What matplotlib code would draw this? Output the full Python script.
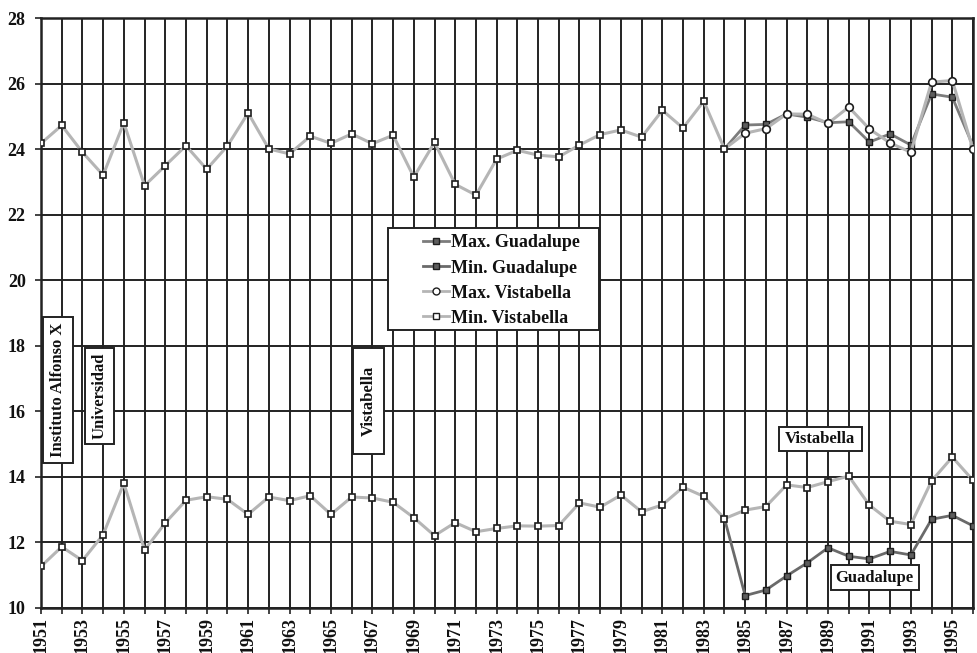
#!/usr/bin/env python3
# -*- coding: utf-8 -*-

"""
Max / min temperature series, Vistabella and Guadalupe, 1951-1996.
"""

import matplotlib
matplotlib.use("Agg")
from matplotlib import pyplot as plt
from matplotlib.lines import Line2D
from matplotlib.patches import Rectangle

# DATA ########################################################################

years = list(range(1951, 1997))

vist_max = [24.18, 24.73, 23.91, 23.21, 24.81, 22.89, 23.50, 24.11, 23.39, 24.10,
            25.11, 24.01, 23.86, 24.40, 24.18, 24.47, 24.17, 24.43, 23.15, 24.21,
            22.93, 22.60, 23.70, 23.97, 23.82, 23.77, 24.13, 24.45, 24.59, 24.37,
            25.19, 24.65, 25.47, 24.01, 24.49, 24.63, 25.08, 25.07, 24.79, 25.29,
            24.62, 24.19, 23.91, 26.05, 26.10, 24.00]

vist_min = [11.26, 11.86, 11.44, 12.23, 13.80, 11.76, 12.59, 13.28, 13.39, 13.31,
            12.85, 13.38, 13.27, 13.42, 12.85, 13.38, 13.35, 13.22, 12.75, 12.20,
            12.60, 12.32, 12.42, 12.50, 12.49, 12.51, 13.20, 13.07, 13.44, 12.93,
            13.14, 13.68, 13.40, 12.72, 12.98, 13.09, 13.75, 13.67, 13.85, 14.02,
            13.13, 12.64, 12.54, 13.87, 14.60, 13.89]

guad_years = list(range(1985, 1997))
guad_max = [24.74, 24.76, 25.08, 24.98, 24.81, 24.84, 24.22, 24.47, 24.13, 25.69,
            25.59, 24.10]
guad_min = [10.37, 10.54, 10.97, 11.37, 11.83, 11.57, 11.49, 11.72, 11.61, 12.70,
            12.82, 12.50]

station_start = 1984   # last year of the shared series

series_labels = ["Max. Guadalupe", "Min. Guadalupe", "Max. Vistabella", "Min. Vistabella"]
x_tick_labels = [str(y) if y % 2 else "" for y in years]
y_ticks = [10, 12, 14, 16, 18, 20, 22, 24, 26, 28]

# STYLE #######################################################################

plt.rcParams["font.family"] = ["Liberation Serif", "DejaVu Serif"]
plt.rcParams["font.weight"] = "bold"

LIGHT = "#b5b5b5"
DARK_MAX = "#7c7c7c"
DARK_MIN = "#6a6a6a"
FILL = "#5e5e5e"
EDGE = "#1e1e1e"
GRID = "#222222"

W, H = 977, 653

# PLOT ########################################################################

fig = plt.figure(figsize=(W / 100, H / 100), dpi=100)
ax = fig.add_axes([41 / W, 1 - 607.7 / H, 932 / W, 589.4 / H])


def px_box(x0, y0, x1, y1, text=None, rotation=0):
    """White framed box given in pixel coords (origin top-left)."""
    rect = Rectangle((x0 / W, 1 - y1 / H), (x1 - x0) / W, (y1 - y0) / H,
                     transform=fig.transFigure, fc="white", ec=GRID, lw=1.4,
                     zorder=9, clip_on=False)
    ax.add_patch(rect)
    if text:
        ax.text((x0 + x1) / 2 / W, 1 - (y0 + y1) / 2 / H, text, rotation=rotation,
                transform=fig.transFigure, ha="center", va="center",
                fontsize=12, fontweight="bold", color="#111111", zorder=10)


# Guadalupe lines start from the shared 1984 value
i0 = years.index(station_start)
gx = [station_start] + guad_years

ax.plot(gx, [vist_max[i0]] + guad_max, "-", color=DARK_MAX, lw=2.0, zorder=3)
ax.plot(guad_years, guad_max, "s", ms=5, mfc=FILL, mec=EDGE, mew=1.0, zorder=4)
ax.plot(gx, [vist_min[i0]] + guad_min, "-", color=DARK_MIN, lw=2.0, zorder=3)
ax.plot(guad_years, guad_min, "s", ms=5, mfc=FILL, mec=EDGE, mew=1.0, zorder=4)

# Vistabella lines
ax.plot(years, vist_max, "-", color=LIGHT, lw=2.2, zorder=5)
ax.plot(years[:i0 + 1], vist_max[:i0 + 1], "s", ms=5, mfc="white", mec=EDGE,
        mew=1.2, zorder=6)
ax.plot(years[i0 + 1:], vist_max[i0 + 1:], "o", ms=5.5, mfc="white", mec=EDGE,
        mew=1.2, zorder=6)
ax.plot(years, vist_min, "-", color=LIGHT, lw=2.2, zorder=5)
ax.plot(years, vist_min, "s", ms=5, mfc="white", mec=EDGE, mew=1.2, zorder=6)

# Axes ####################

ax.set_xlim(years[0], years[-1])
ax.set_ylim(10, 28)
ax.set_xticks(years)
ax.set_xticklabels(x_tick_labels, rotation=90, fontsize=13, fontweight="bold")
ax.set_yticks(y_ticks)
ax.set_yticklabels([str(v) for v in y_ticks], fontsize=13, fontweight="bold")
ax.tick_params(axis="both", direction="out", length=4, width=1.2, color=GRID,
               labelcolor="#111111", pad=3)
ax.tick_params(axis="y", pad=7)

ax.grid(True, color=GRID, lw=1.4, zorder=1)
ax.set_axisbelow(True)
for side in ax.spines.values():
    side.set_color(GRID)
    side.set_linewidth(1.8)

# Legend ##################

handles = [
    Line2D([], [], color=DARK_MAX, lw=2, marker="s", ms=5, mfc=FILL, mec=EDGE, mew=1),
    Line2D([], [], color=DARK_MIN, lw=2, marker="s", ms=5, mfc=FILL, mec=EDGE, mew=1),
    Line2D([], [], color=LIGHT, lw=2, marker="o", ms=5, mfc="white", mec=EDGE, mew=1),
    Line2D([], [], color=LIGHT, lw=2, marker="s", ms=5, mfc="white", mec=EDGE, mew=1),
]
px_box(388, 228, 599, 330)
leg = ax.legend(handles, series_labels, loc="upper left",
                bbox_to_anchor=(418 / W, 1 - 229 / H),
                bbox_transform=fig.transFigure,
                borderaxespad=0, frameon=False,
                prop={"size": 13, "weight": "bold"}, handlelength=1.4,
                handletextpad=0.15, borderpad=0.3, labelspacing=0.45)
leg.set_zorder(11)
for t in leg.get_texts():
    t.set_color("#111111")

# Station labels ##########

px_box(43.3, 317.3, 72.7, 463.3, "Instituto Alfonso X", rotation=90)
px_box(85.3, 348.3, 114.3, 444.3, "Universidad", rotation=90)
px_box(352.7, 348.3, 384.3, 454.0, "Vistabella", rotation=90)
px_box(779.0, 426.7, 861.7, 450.7, "Vistabella")
px_box(830.7, 565.0, 918.7, 590.0, "Guadalupe")

fig.savefig("out.png", dpi=100)
